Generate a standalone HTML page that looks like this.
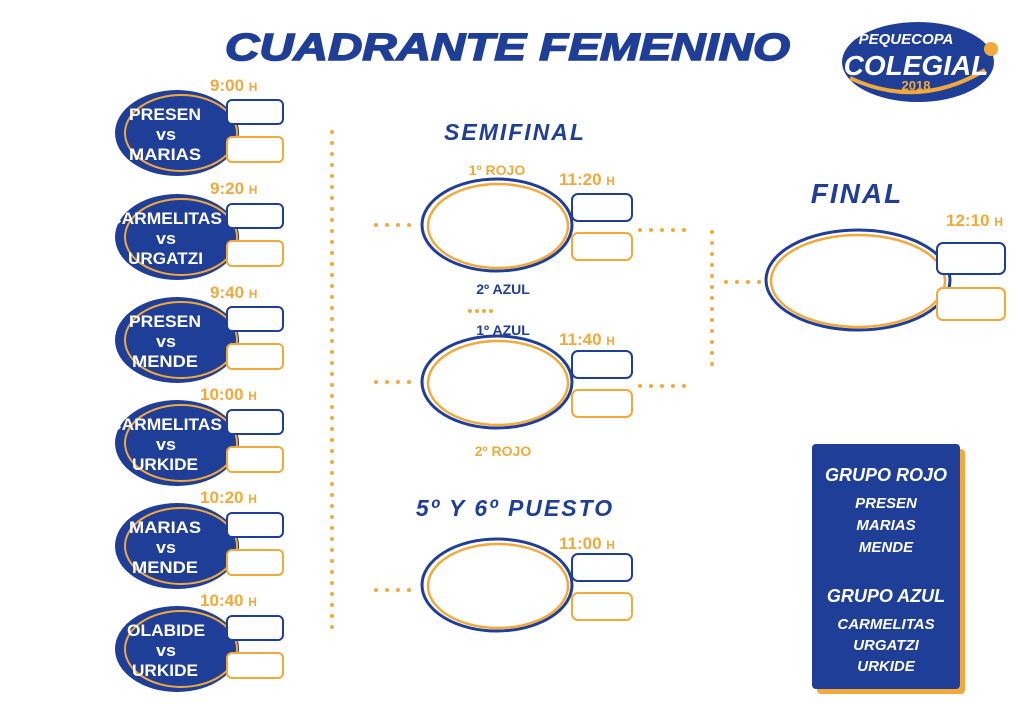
<!DOCTYPE html>
<html><head><meta charset="utf-8"><style>
html,body{margin:0;padding:0;background:#fff;width:1024px;height:725px;overflow:hidden}
svg{display:block}
.t{font-family:"Liberation Sans",sans-serif;font-weight:bold}
</style></head><body>
<svg width="1024" height="725" viewBox="0 0 1024 725" xmlns="http://www.w3.org/2000/svg">
<defs>
<g id="m">
  <ellipse cx="0" cy="0" rx="62" ry="43" fill="#1f3e97"/>
  <ellipse cx="4" cy="0" rx="56" ry="38" fill="none" stroke="#f2a93b" stroke-width="2"/>
  <rect x="50" y="-33" width="56" height="24" rx="5" fill="#fff" stroke="#1f3e97" stroke-width="2"/>
  <rect x="50" y="4" width="56" height="25" rx="5" fill="#fff" stroke="#f2a93b" stroke-width="2"/>
</g>
<g id="s">
  <ellipse cx="0" cy="0" rx="75" ry="46" fill="#fff" stroke="#1f3e97" stroke-width="3"/>
  <ellipse cx="1" cy="1" rx="70" ry="42" fill="#fff" stroke="#f2a93b" stroke-width="2.5"/>
  <rect x="75" y="-31" width="60" height="27" rx="6" fill="#fff" stroke="#1f3e97" stroke-width="2"/>
  <rect x="75" y="8" width="60" height="27" rx="6" fill="#fff" stroke="#f2a93b" stroke-width="2"/>
</g>
</defs>
<text class="t" x="225" y="60" font-size="38" font-style="italic" font-weight="900" fill="#1f3e97" textLength="565" lengthAdjust="spacingAndGlyphs" stroke="#1f3e97" stroke-width="1.5">CUADRANTE FEMENINO</text>
<!-- logo -->
<ellipse cx="918" cy="62" rx="76" ry="40" fill="#1f3e97"/>
<path d="M850 78 Q918 110 985 70" stroke="#f2a93b" stroke-width="4" fill="none"/>
<text class="t" x="906" y="44" font-size="15" fill="#fff" text-anchor="middle" font-style="italic">PEQUECOPA</text>
<text class="t" x="916" y="75" font-size="28" fill="#fff" text-anchor="middle" font-style="italic">COLEGIAL</text>
<text class="t" x="916" y="90" font-size="13" fill="#f2a93b" text-anchor="middle">2018</text>
<circle cx="991" cy="49" r="7" fill="#f2a93b"/>
<!-- left matches -->
<use href="#m" x="177" y="133"/><use href="#m" x="177" y="237"/><use href="#m" x="177" y="340"/>
<use href="#m" x="177" y="443"/><use href="#m" x="177" y="546"/><use href="#m" x="177" y="649"/>
<g class="t" font-size="17" fill="#fff">
<text x="129" y="120" textLength="72" lengthAdjust="spacingAndGlyphs">PRESEN</text><text x="156" y="140" textLength="20" lengthAdjust="spacingAndGlyphs">vs</text><text x="129" y="160" textLength="72" lengthAdjust="spacingAndGlyphs">MARIAS</text>
<text x="109" y="224" textLength="113" lengthAdjust="spacingAndGlyphs">CARMELITAS</text><text x="156" y="244" textLength="20" lengthAdjust="spacingAndGlyphs">vs</text><text x="128" y="264" textLength="75" lengthAdjust="spacingAndGlyphs">URGATZI</text>
<text x="129" y="327" textLength="72" lengthAdjust="spacingAndGlyphs">PRESEN</text><text x="156" y="347" textLength="20" lengthAdjust="spacingAndGlyphs">vs</text><text x="132" y="367" textLength="66" lengthAdjust="spacingAndGlyphs">MENDE</text>
<text x="109" y="430" textLength="113" lengthAdjust="spacingAndGlyphs">CARMELITAS</text><text x="156" y="450" textLength="20" lengthAdjust="spacingAndGlyphs">vs</text><text x="132" y="470" textLength="66" lengthAdjust="spacingAndGlyphs">URKIDE</text>
<text x="129" y="533" textLength="72" lengthAdjust="spacingAndGlyphs">MARIAS</text><text x="156" y="553" textLength="20" lengthAdjust="spacingAndGlyphs">vs</text><text x="132" y="573" textLength="66" lengthAdjust="spacingAndGlyphs">MENDE</text>
<text x="127" y="636" textLength="78" lengthAdjust="spacingAndGlyphs">OLABIDE</text><text x="156" y="656" textLength="20" lengthAdjust="spacingAndGlyphs">vs</text><text x="132" y="676" textLength="66" lengthAdjust="spacingAndGlyphs">URKIDE</text>
</g>
<g class="t" font-size="17" fill="#f2a93b">
<text x="210" y="91">9:00 <tspan font-size="12">H</tspan></text>
<text x="210" y="194">9:20 <tspan font-size="12">H</tspan></text>
<text x="210" y="298">9:40 <tspan font-size="12">H</tspan></text>
<text x="200" y="400">10:00 <tspan font-size="12">H</tspan></text>
<text x="200" y="503">10:20 <tspan font-size="12">H</tspan></text>
<text x="200" y="606">10:40 <tspan font-size="12">H</tspan></text>
<text x="559" y="185">11:20 <tspan font-size="12">H</tspan></text>
<text x="559" y="345">11:40 <tspan font-size="12">H</tspan></text>
<text x="559" y="549">11:00 <tspan font-size="12">H</tspan></text>
<text x="946" y="226">12:10 <tspan font-size="12">H</tspan></text>
</g>
<!-- dotted lines -->
<g stroke="#f2a93b" stroke-width="4" stroke-linecap="round" stroke-dasharray="0 11" fill="none">
<line x1="332" y1="132" x2="332" y2="636"/>
<line x1="376" y1="225" x2="410" y2="225"/>
<line x1="376" y1="382" x2="410" y2="382"/>
<line x1="376" y1="590" x2="410" y2="590"/>
<line x1="640" y1="230" x2="686" y2="230"/>
<line x1="640" y1="386" x2="686" y2="386"/>
<line x1="712" y1="232" x2="712" y2="372"/>
<line x1="726" y1="282" x2="760" y2="282"/>
<line x1="470" y1="311" x2="492" y2="311" stroke-dasharray="0 7"/>
</g>
<!-- semis -->
<text class="t" x="515" y="140" font-size="23" font-style="italic" fill="#1f3e97" text-anchor="middle" letter-spacing="2">SEMIFINAL</text>
<use href="#s" x="497" y="225"/>
<use href="#s" x="497" y="382"/>
<text class="t" x="515" y="516" font-size="23" font-style="italic" fill="#1f3e97" text-anchor="middle" letter-spacing="2">5º Y 6º PUESTO</text>
<use href="#s" x="497" y="585"/>
<g class="t" font-size="14" text-anchor="middle">
<text x="497" y="175" fill="#f2a93b">1º ROJO</text>
<text x="503" y="294" fill="#1f3e97">2º AZUL</text>
<text x="503" y="335" fill="#1f3e97">1º AZUL</text>
<text x="503" y="456" fill="#f2a93b">2º ROJO</text>
</g>
<!-- final -->
<text class="t" x="857" y="203" font-size="28" font-style="italic" fill="#1f3e97" text-anchor="middle" letter-spacing="2">FINAL</text>
<ellipse cx="858" cy="280" rx="92" ry="50" fill="#fff" stroke="#1f3e97" stroke-width="3"/>
<ellipse cx="858" cy="281" rx="87" ry="46" fill="#fff" stroke="#f2a93b" stroke-width="2.5"/>
<rect x="937" y="243" width="68" height="31" rx="6" fill="#fff" stroke="#1f3e97" stroke-width="2"/>
<rect x="937" y="288" width="68" height="32" rx="6" fill="#fff" stroke="#f2a93b" stroke-width="2"/>
<!-- legend -->
<rect x="817" y="449" width="148" height="245" rx="4" fill="#f2a93b"/>
<rect x="812" y="444" width="148" height="245" rx="4" fill="#1f3e97"/>
<g class="t" fill="#fff" text-anchor="middle" font-style="italic">
<text x="886" y="481" font-size="18">GRUPO ROJO</text>
<text x="886" y="508" font-size="15">PRESEN</text>
<text x="886" y="530" font-size="15">MARIAS</text>
<text x="886" y="552" font-size="15">MENDE</text>
<text x="886" y="602" font-size="18">GRUPO AZUL</text>
<text x="886" y="629" font-size="15">CARMELITAS</text>
<text x="886" y="650" font-size="15">URGATZI</text>
<text x="886" y="671" font-size="15">URKIDE</text>
</g>
</svg>
</body></html>
